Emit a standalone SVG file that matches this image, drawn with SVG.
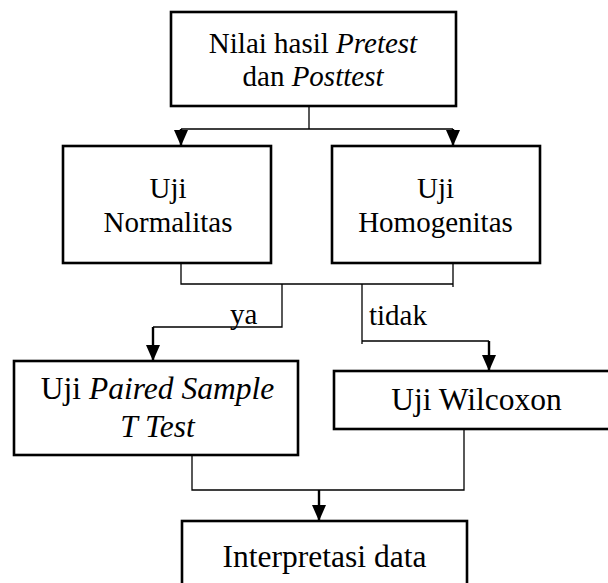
<svg xmlns="http://www.w3.org/2000/svg" width="608" height="583" viewBox="0 0 608 583">
<style>
.box{fill:#fff;stroke:#000;stroke-width:2.6}
text{font-family:'Liberation Serif','Times New Roman',Tinos,serif;font-size:29px;fill:#000}
.t{text-anchor:middle}
.big{font-size:31.5px}
.ln{fill:none;stroke:#000;stroke-width:1.3}
.ar{fill:none;stroke:#000;stroke-width:2.4;marker-end:url(#ah)}
</style>
<defs>
<marker id="ah" markerWidth="16" markerHeight="14" refX="16" refY="7" orient="auto" markerUnits="userSpaceOnUse">
<path d="M0,0 L16,7 L0,14 z" fill="#000"/>
</marker>
</defs>
<rect width="608" height="583" fill="#fff"/>
<g id="connectors">
<path class="ln" d="M309 106 V129 M181 129 H453"/>
<path class="ar" d="M181 129 V146"/>
<path class="ar" d="M453 129 V146"/>
<path class="ln" d="M181 263 V284 H453 V263 M453 284 V287"/>
<path class="ln" d="M282 284 V327 H153"/>
<path class="ar" d="M153 327 V361"/>
<path class="ln" d="M362 284 V344 M362 341 H489"/>
<path class="ar" d="M489 341 V371"/>
<path class="ln" d="M192 455 V490 H464 V429"/>
<path class="ar" d="M319 490 V521"/>
<text x="230" y="324">ya</text>
<text x="369" y="325">tidak</text>
</g>
<g id="n1">
<rect class="box" x="171" y="12" width="285" height="94"/>
<text class="t" x="313" y="53">Nilai hasil <tspan font-style="italic">Pretest</tspan></text>
<text class="t" x="313" y="86">dan <tspan font-style="italic">Posttest</tspan></text>
</g>
<g id="n2">
<rect class="box" x="63" y="146" width="208" height="117"/>
<text class="t" x="168" y="198">Uji</text>
<text class="t" x="168" y="232">Normalitas</text>
</g>
<g id="n3">
<rect class="box" x="332" y="146" width="208" height="117"/>
<text class="t" x="435.5" y="198">Uji</text>
<text class="t" x="435.5" y="232">Homogenitas</text>
</g>
<g id="n4">
<rect class="box" x="14" y="361" width="284" height="94"/>
<text class="t big" x="157.5" y="399">Uji <tspan font-style="italic">Paired Sample</tspan></text>
<text class="t big" x="157.5" y="437" font-style="italic">T Test</text>
</g>
<g id="n5">
<rect class="box" x="334" y="371" width="278" height="58"/>
<text class="t big" x="476.5" y="410">Uji Wilcoxon</text>
</g>
<g id="n6">
<rect class="box" x="182" y="521" width="285" height="80"/>
<text class="t big" x="324.5" y="567">Interpretasi data</text>
</g>
</svg>
